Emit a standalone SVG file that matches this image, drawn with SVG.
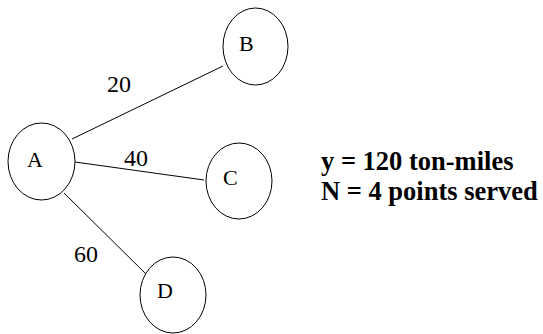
<svg xmlns="http://www.w3.org/2000/svg" width="543" height="334" viewBox="0 0 543 334">
<style>
.node{fill:#fff;stroke:#000;stroke-width:1}
text{font-family:'Liberation Serif','Times New Roman','DejaVu Serif',serif;fill:#000}
.lbl{font-size:22px}
.elbl{font-size:24px}
.info{font-size:26.5px;font-weight:bold}
.edge{stroke:#000;stroke-width:1;fill:none}
</style>
<rect width="543" height="334" fill="#fff"/>
<g id="connectors">
<line class="edge" x1="72" y1="139" x2="223" y2="66"/>
<line class="edge" x1="75" y1="162" x2="204" y2="180"/>
<line class="edge" x1="64" y1="193" x2="147" y2="275"/>
<text class="elbl" x="107" y="92">20</text>
<text class="elbl" x="124" y="166">40</text>
<text class="elbl" x="74" y="262">60</text>
</g>
<g id="A"><ellipse class="node" cx="41.5" cy="161.5" rx="33.5" ry="38.5"/><text class="lbl" x="27" y="167">A</text></g>
<g id="B"><ellipse class="node" cx="255.5" cy="46.5" rx="32.5" ry="38.5"/><text class="lbl" x="239" y="51">B</text></g>
<g id="C"><ellipse class="node" cx="239" cy="181" rx="33" ry="38"/><text class="lbl" x="223" y="185">C</text></g>
<g id="D"><ellipse class="node" cx="173" cy="295" rx="33" ry="38"/><text class="lbl" x="157" y="298">D</text></g>
<g id="info">
<text class="info" x="321" y="170">y = 120 ton-miles</text>
<text class="info" x="321" y="200">N = 4 points served</text>
</g>
</svg>
